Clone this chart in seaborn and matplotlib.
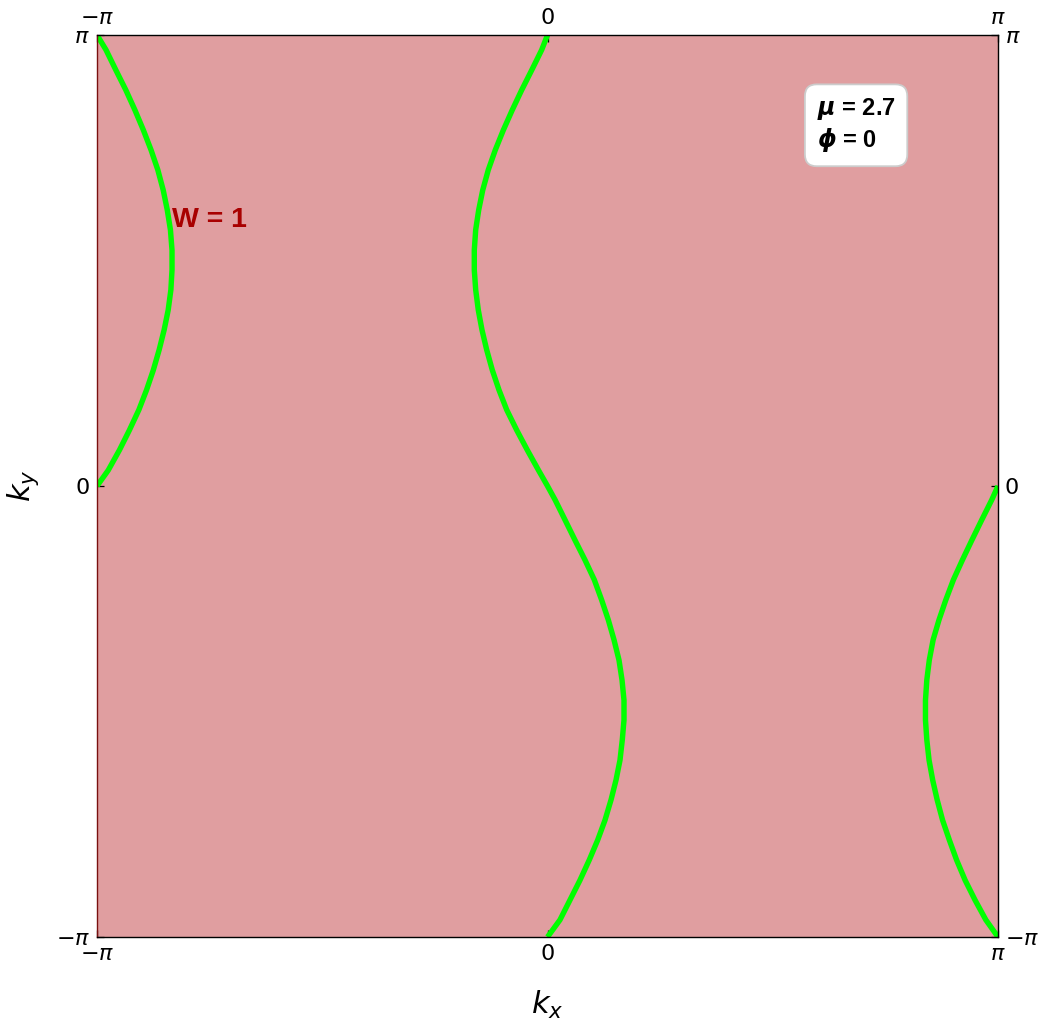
import numpy as np
import pandas as pd
import matplotlib
matplotlib.use("Agg")
import matplotlib.pyplot as plt
import seaborn as sns

# ---- data (in units of pi) ----
left_kx = [-1.0, -0.980, -0.958, -0.936, -0.916, -0.897, -0.880, -0.865, -0.853, -0.844, -0.837, -0.8335,
           -0.8335, -0.836, -0.842, -0.851, -0.862, -0.875, -0.890, -0.907, -0.928, -0.950, -0.975, -1.0]
left_ky = [1.0, 0.967, 0.922, 0.878, 0.834, 0.789, 0.745, 0.701, 0.656, 0.612, 0.568, 0.523,
           0.479, 0.435, 0.390, 0.346, 0.302, 0.257, 0.213, 0.169, 0.124, 0.080, 0.035, 0.0]

mid_kx = [0.0, -0.0129, -0.0351, -0.0573, -0.0781, -0.0981, -0.1159, -0.1314, -0.1438, -0.1527, -0.1594, -0.1625,
          -0.1625, -0.1594, -0.1536, -0.1454, -0.1350, -0.1225, -0.1077, -0.0906, -0.0684, -0.0450, -0.0200, 0.0,
          0.0170, 0.0388, 0.0610, 0.0832, 0.1039, 0.1203, 0.1350, 0.1476, 0.1587, 0.1654, 0.1698,
          0.1698, 0.1660, 0.1609, 0.1521, 0.1410, 0.1276, 0.1114, 0.0928, 0.0721, 0.0499, 0.0277, 0.0]
mid_ky = [1.0, 0.967, 0.922, 0.878, 0.834, 0.789, 0.745, 0.701, 0.656, 0.612, 0.568, 0.523,
          0.479, 0.435, 0.390, 0.346, 0.302, 0.257, 0.213, 0.169, 0.124, 0.080, 0.035, 0.0,
          -0.031, -0.075, -0.120, -0.164, -0.208, -0.253, -0.297, -0.341, -0.386, -0.430, -0.475,
          -0.519, -0.563, -0.608, -0.652, -0.696, -0.741, -0.785, -0.829, -0.874, -0.918, -0.962, -1.0]

right_kx = [1.0, 0.986, 0.964, 0.942, 0.921, 0.901, 0.884, 0.869, 0.856, 0.8475, 0.842, 0.839,
            0.839, 0.842, 0.847, 0.855, 0.865, 0.877, 0.892, 0.908, 0.927, 0.949, 0.973, 1.0]
right_ky = [0.0, -0.031, -0.075, -0.120, -0.164, -0.208, -0.253, -0.297, -0.341, -0.386, -0.430, -0.475,
            -0.519, -0.563, -0.608, -0.652, -0.696, -0.741, -0.785, -0.829, -0.874, -0.918, -0.962, -1.0]

tick_vals = [-1.0, 0.0, 1.0]
tick_labels = [r"$-\pi$", "0", r"$\pi$"]
mu_val = 2.7
phi_val = 0
winding_label = "W = 1"

# ---- build table ----
frames = []
for name, xs, ys in [("left", left_kx, left_ky), ("mid", mid_kx, mid_ky), ("right", right_kx, right_ky)]:
    frames.append(pd.DataFrame({"kx": np.array(xs) * np.pi, "ky": np.array(ys) * np.pi,
                                "curve": name, "order": np.arange(len(xs))}))
df = pd.concat(frames, ignore_index=True)

sns.set_theme(style="white")
plt.rcParams["font.family"] = ["DejaVu Sans"]
plt.rcParams["mathtext.fontset"] = "dejavusans"

fig = plt.figure(figsize=(10.4, 10.24), dpi=100)
ax = fig.add_axes([97 / 1040, 1 - 937 / 1024, 901 / 1040, 902 / 1024])
ax.set_facecolor("#E09EA0")

for name in ["left", "mid", "right"]:
    sub = df[df["curve"] == name]
    sns.lineplot(data=sub, x="kx", y="ky", sort=False, estimator=None, color="#00FF00",
                 linewidth=3.9, ax=ax, legend=False, solid_capstyle="butt", solid_joinstyle="round")

ax.set_xlim(-np.pi, np.pi)
ax.set_ylim(-np.pi, np.pi)
tpos = [v * np.pi for v in tick_vals]
ax.set_xticks(tpos)
ax.set_xticklabels(tick_labels)
ax.set_yticks(tpos)
ax.set_yticklabels(tick_labels)
ax.tick_params(axis="both", which="both", direction="in", length=5, width=0.9, color="black",
               labelsize=16, top=True, bottom=True, left=True, right=True,
               labeltop=True, labelbottom=True, labelleft=True, labelright=True,
               labelcolor="black")
ax.tick_params(axis="x", pad=5)
ax.tick_params(axis="y", pad=5)

for s in ["top", "bottom", "right"]:
    ax.spines[s].set_color("black")
    ax.spines[s].set_linewidth(1.0)
ax.spines["left"].set_color("#7A1010")
ax.spines["left"].set_linewidth(1.0)

ax.set_xlabel("$k_x$", fontsize=22, color="black")
ax.set_ylabel("$k_y$", fontsize=22, color="black")
ax.xaxis.set_label_coords(0.5, -0.058)
ax.yaxis.set_label_coords(-0.062, 0.5)

ax.text(-0.8335 * np.pi, 0.59 * np.pi, winding_label, color="#A80000", fontsize=20.5,
        fontweight="bold", family=["Liberation Sans", "DejaVu Sans"], ha="left", va="center")

ax.text(0.685 * np.pi, 0.80 * np.pi,
        r"$\boldsymbol{\mu}$ = " + f"{mu_val}" + "\n" + r"$\boldsymbol{\phi}$ = " + f"{phi_val}",
        fontsize=17, fontweight="bold", family=["Liberation Sans", "DejaVu Sans"], color="black",
        ha="center", va="center", multialignment="left", linespacing=1.25,
        bbox=dict(boxstyle="round,pad=0.5,rounding_size=0.5", facecolor="white",
                  edgecolor="#CCCCCC", linewidth=1.3))

fig.savefig("out.png", dpi=100)
